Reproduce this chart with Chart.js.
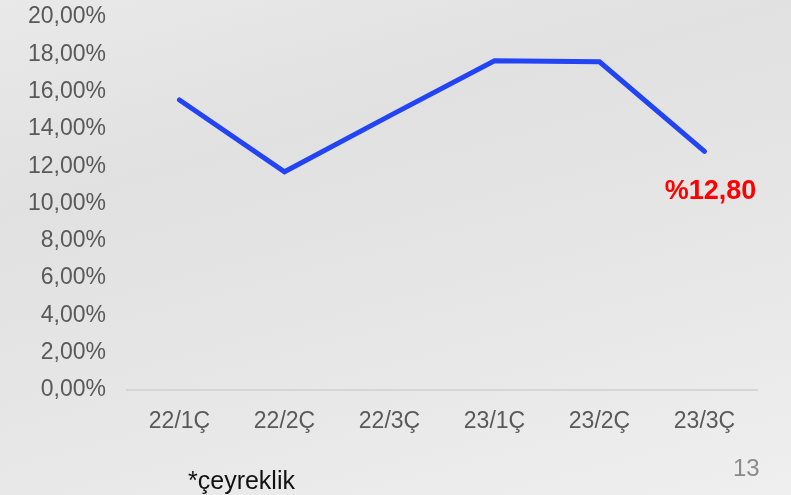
<!DOCTYPE html>
<html lang="tr">
<head>
<meta charset="UTF-8">
<title>Çeyreklik oran</title>
<script src="https://cdn.jsdelivr.net/npm/chart.js@4.4.0/dist/chart.umd.min.js"></script>
<style>
    body {
        margin: 0;
    }
    #wrap {
        position: relative;
        width: 791px;
        height: 495px;
        overflow: hidden;
        background: linear-gradient(165deg, #e9e9e9 0%, #e1e1e1 30%, #e6e6e6 60%, #efefef 100%);
        font-family: "Liberation Sans", Arial, sans-serif;
    }
    .note {
        position: absolute;
        left: 188px;
        top: 466px;
        font-size: 25px;
        color: #111;
    }
    .page {
        position: absolute;
        left: 733px;
        top: 454px;
        font-size: 24px;
        color: #8a8a8a;
    }
</style>
</head>
<body>
<div id="wrap">
    <canvas id="mychart" width="791" height="495"></canvas>
    <div class="note">*çeyreklik</div>
    <div class="page">13</div>
</div>
<script>
    const labels = ["22/1Ç", "22/2Ç", "22/3Ç", "23/1Ç", "23/2Ç", "23/3Ç"]
    const oranlar = [15.55, 11.7, 14.7, 17.65, 17.6, 12.8]
    const sonEtiket = "%12,80"

    function yuzde(v) {
        return v.toFixed(2).replace('.', ',') + '%'
    }

    // son noktanin altina kirmizi etiket
    const etiketPlugin = {
        id: 'etiket',
        afterDatasetsDraw(chart) {
            const meta = chart.getDatasetMeta(0)
            const p = meta.data[meta.data.length - 1]
            const ctx = chart.ctx
            ctx.save()
            ctx.font = 'bold 27px "Liberation Sans", Arial, sans-serif'
            ctx.fillStyle = '#ff0000'
            ctx.textAlign = 'center'
            ctx.textBaseline = 'middle'
            ctx.fillText(sonEtiket, p.x + 6, p.y + 40)
            ctx.restore()
        }
    }

    const ctx = document.getElementById('mychart')
    const myChart = new Chart(ctx, {
        type: 'line',
        data: {
            labels: labels,
            datasets: [{
                data: oranlar,
                borderColor: '#2244f5',
                borderWidth: 5,
                borderCapStyle: 'round',
                borderJoinStyle: 'miter',
                pointRadius: 0,
                tension: 0,
                fill: false
            }]
        },
        options: {
            responsive: false,
            animation: false,
            layout: {
                padding: { top: 17, right: 34, left: 0, bottom: 0 }
            },
            plugins: {
                legend: { display: false },
                tooltip: { enabled: false }
            },
            scales: {
                x: {
                    offset: true,
                    grid: { display: false, drawTicks: false },
                    border: { display: true, color: '#d6d6d6', width: 2 },
                    ticks: {
                        color: '#595959',
                        padding: 18,
                        font: { size: 23, family: '"Liberation Sans", Arial, sans-serif' }
                    },
                    afterFit(scale) {
                        scale.height = 105
                        scale.paddingLeft = 0
                        scale.paddingRight = 0
                    }
                },
                y: {
                    min: 0,
                    max: 20,
                    grid: { display: false, drawTicks: false },
                    border: { display: false },
                    ticks: {
                        stepSize: 2,
                        color: '#595959',
                        padding: 21,
                        font: { size: 23, family: '"Liberation Sans", Arial, sans-serif' },
                        callback: function (v) { return yuzde(v) }
                    },
                    afterFit(scale) {
                        scale.width = 127
                        scale.paddingTop = 0
                        scale.paddingBottom = 0
                    }
                }
            }
        },
        plugins: [etiketPlugin]
    })
</script>
</body>
</html>
